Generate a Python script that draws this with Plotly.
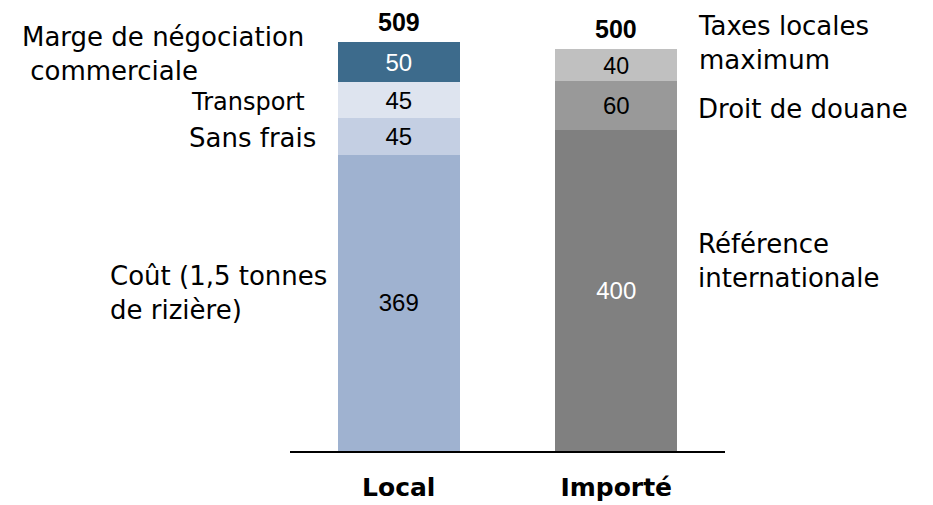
import plotly.graph_objects as go

# ---- data ----
categories = ["Local", "Importé"]

local_values = [369, 45, 45, 50]
local_labels = ["Coût (1,5 tonnes<br>de rizière)", "Sans frais", "Transport",
                "Marge de négociation<br> commerciale"]
local_colors = ["#9FB2D0", "#C4CFE3", "#DEE4EF", "#3D6B8C"]
local_text_colors = ["#000000", "#000000", "#000000", "#FFFFFF"]

import_values = [400, 60, 40]
import_labels = ["Référence<br>internationale", "Droit de douane",
                 "Taxes locales<br>maximum"]
import_colors = ["#808080", "#999999", "#C0C0C0"]
import_text_colors = ["#FFFFFF", "#000000", "#000000"]

totals = [sum(local_values), sum(import_values)]

# ---- layout constants (pixels); page body has an 8px margin ----
OFF = 8
W, H = 933 - OFF, 505 - OFF
ML, MR, MT, MB = 290 - OFF, 208, 20 - OFF, 54
plot_h = H - MT - MB
px_per_unit = (451 - 42) / 509.0
y_max = plot_h / px_per_unit

LABEL_FONT = "DejaVu Sans, Verdana, sans-serif"
NUM_FONT = "Liberation Sans, Arial, sans-serif"

fig = go.Figure()

n_layers = max(len(local_values), len(import_values))
for i in range(n_layers):
    xs, ys, cols, tcols, txt = [], [], [], [], []
    if i < len(local_values):
        xs.append(categories[0]); ys.append(local_values[i])
        cols.append(local_colors[i]); tcols.append(local_text_colors[i])
        txt.append(str(local_values[i]))
    if i < len(import_values):
        xs.append(categories[1]); ys.append(import_values[i])
        cols.append(import_colors[i]); tcols.append(import_text_colors[i])
        txt.append(str(import_values[i]))
    fig.add_trace(go.Bar(
        x=xs, y=ys, text=txt, textposition="inside", insidetextanchor="middle",
        textangle=0, marker=dict(color=cols, line=dict(width=0)),
        insidetextfont=dict(family=NUM_FONT, size=24, color=tcols),
        width=0.56, hoverinfo="skip", showlegend=False, cliponaxis=False,
    ))

annotations = []

# totals above bars
for cat, tot in zip(categories, totals):
    annotations.append(dict(
        x=cat, y=tot, xref="x", yref="y", text=f"<b>{tot}</b>", showarrow=False,
        yanchor="middle", yshift=20,
        font=dict(family=NUM_FONT, size=25, color="#000000")))

# segment labels, local (left side)
local_style = [  # (xanchor, xshift, yshift, align, size)
    ("left", -291, 10, "left", 26),
    ("right", -81, -2, "right", 26),
    ("right", -92, -2, "right", 24),
    ("left", -379, 8, "left", 26),
]
cum = 0
for v, lab, (xa, xs_, ys_, al, fs) in zip(local_values, local_labels, local_style):
    mid = cum + v / 2.0
    cum += v
    annotations.append(dict(
        x=categories[0], y=mid, xref="x", yref="y", text=lab, showarrow=False,
        xanchor=xa, xshift=xs_, yshift=ys_, align=al, yanchor="middle",
        font=dict(family=LABEL_FONT, size=fs, color="#000000")))

# segment labels, imported (right side)
import_style = [29, -4, 22]
cum = 0
for v, lab, ys_ in zip(import_values, import_labels, import_style):
    mid = cum + v / 2.0
    cum += v
    annotations.append(dict(
        x=categories[1], y=mid, xref="x", yref="y", text=lab, showarrow=False,
        xanchor="left", xshift=80, yshift=ys_, align="left", yanchor="middle",
        font=dict(family=LABEL_FONT, size=26, color="#000000")))

fig.update_layout(
    width=W, height=H, barmode="stack",
    margin=dict(l=ML, r=MR, t=MT, b=MB, pad=0, autoexpand=False),
    paper_bgcolor="white", plot_bgcolor="white",
    annotations=annotations,
    xaxis=dict(
        range=[-0.5, 1.5], showline=True, linecolor="#000000", linewidth=2,
        showgrid=False, zeroline=False, ticks="outside", ticklen=13,
        tickcolor="rgba(0,0,0,0)", automargin=False,
        tickvals=categories, ticktext=[f"<b>{c}</b>" for c in categories],
        tickfont=dict(family=LABEL_FONT, size=25, color="#000000"),
    ),
    yaxis=dict(range=[0, y_max], visible=False, showgrid=False, zeroline=False,
               automargin=False),
)

fig.write_html("out.html")
